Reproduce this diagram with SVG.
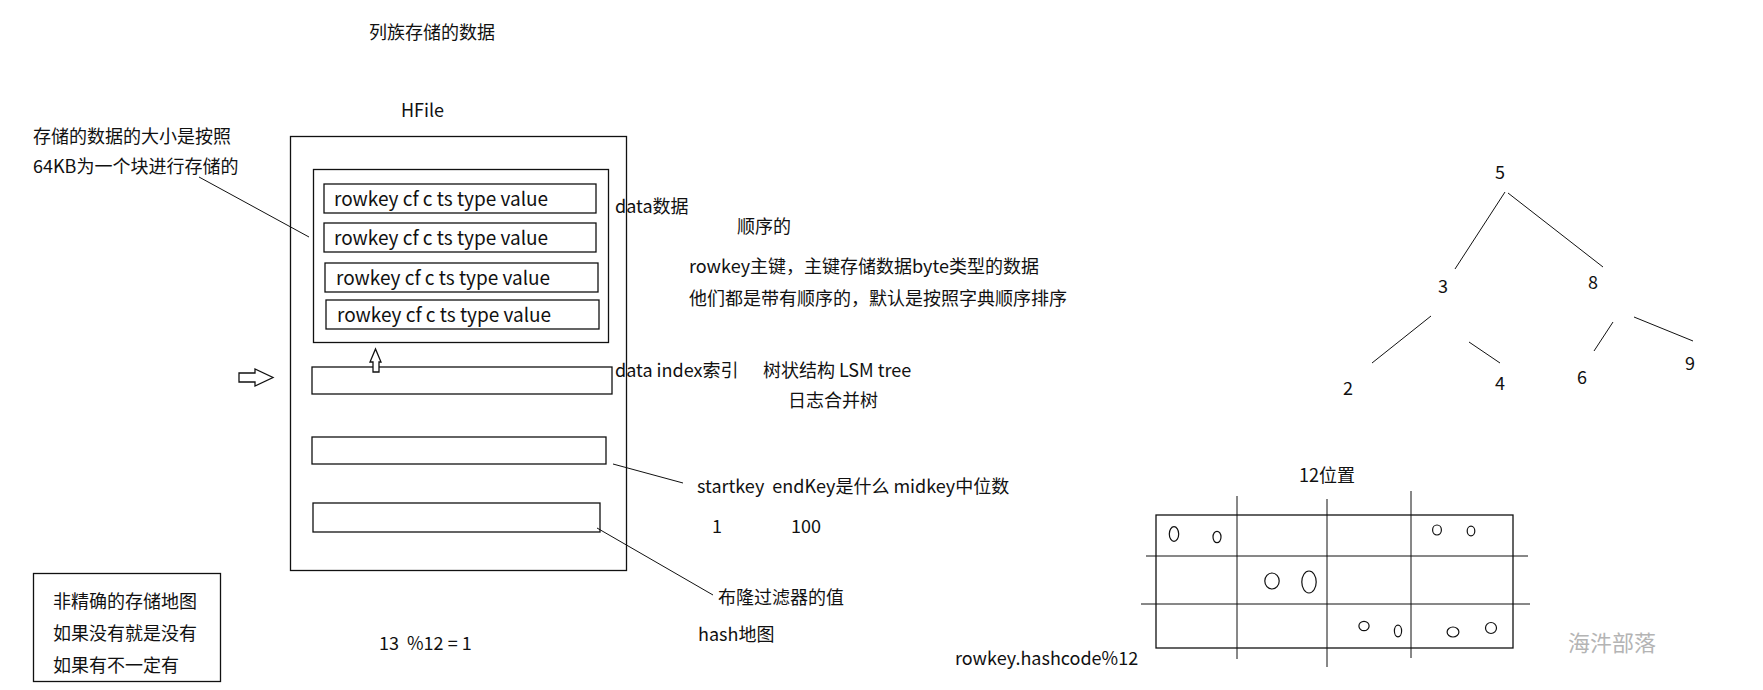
<svg xmlns="http://www.w3.org/2000/svg" width="1763" height="690" viewBox="0 0 1763 690">
<style>
text{font-family:"Noto Sans CJK SC","Liberation Sans",sans-serif;font-size:18px;fill:#111}
.row{font-size:19px}
.box{fill:#fff;stroke:#111;stroke-width:1.3}
.ln{stroke:#111;stroke-width:1;fill:none}
.num{font-size:18px}
.ell{fill:none;stroke:#111;stroke-width:1.2}
.wm{fill:#b4b4b4;font-size:22px}
</style>
<rect width="1763" height="690" fill="#fff"/>
<g id="title"><text x="369" y="39">列族存储的数据</text></g>
<g id="note-left"><text x="33" y="143">存储的数据的大小是按照</text><text x="33" y="173">64KB为一个块进行存储的</text></g>
<g id="hfile">
<text x="401" y="117">HFile</text>
<rect class="box" x="290.5" y="136.5" width="336" height="434"/>
</g>
<g id="data-block">
<rect class="box" x="313.5" y="169.5" width="295" height="173"/>
<rect class="box" x="324" y="184" width="272" height="29"/>
<text class="row" x="334" y="206">rowkey cf c ts type value</text>
<rect class="box" x="324" y="223" width="272" height="29"/>
<text class="row" x="334" y="245">rowkey cf c ts type value</text>
<rect class="box" x="325" y="263" width="273" height="29"/>
<text class="row" x="336" y="285">rowkey cf c ts type value</text>
<rect class="box" x="326" y="300" width="273" height="29"/>
<text class="row" x="337" y="322">rowkey cf c ts type value</text>
</g>
<g id="index-block"><rect class="box" x="312" y="367" width="300" height="27"/></g>
<g id="meta-block"><rect class="box" x="312" y="437" width="294" height="27"/></g>
<g id="bloom-block"><rect class="box" x="313" y="503" width="287" height="29"/></g>
<g id="arrows">
<polygon class="box" points="239,373 255,373 255,369 273,377.5 255,386 255,382 239,382"/>
<polygon class="box" points="373,372 373,362 370,362 375.5,349 381,362 379,362 379,372"/>
</g>
<g id="labels">
<text x="615" y="213">data数据</text>
<text x="737" y="233">顺序的</text>
<text x="689" y="273">rowkey主键，主键存储数据byte类型的数据</text>
<text x="689" y="305">他们都是带有顺序的，默认是按照字典顺序排序</text>
<text x="615" y="377">data index索引</text>
<text x="763" y="377">树状结构 LSM tree</text>
<text x="788" y="407">日志合并树</text>
<text x="697" y="493" xml:space="preserve">startkey  endKey是什么 midkey中位数</text>
<text x="712" y="533">1</text>
<text x="791" y="533">100</text>
<text x="718" y="604">布隆过滤器的值</text>
<text x="698" y="641">hash地图</text>
<text x="379" y="650" xml:space="preserve">13  %12 = 1</text>
<text x="955" y="665">rowkey.hashcode%12</text>
</g>
<g id="legend">
<rect class="box" x="33.5" y="573.5" width="187" height="108"/>
<text x="53" y="608">非精确的存储地图</text>
<text x="53" y="640">如果没有就是没有</text>
<text x="53" y="672">如果有不一定有</text>
</g>
<g id="tree">
<text class="num" x="1495" y="179">5</text>
<text class="num" x="1438" y="293">3</text>
<text class="num" x="1588" y="289">8</text>
<text class="num" x="1343" y="395">2</text>
<text class="num" x="1495" y="390">4</text>
<text class="num" x="1577" y="384">6</text>
<text class="num" x="1685" y="370">9</text>
</g>
<g id="hash-grid">
<text x="1299" y="482">12位置</text>
<rect class="box" x="1156" y="515" width="357" height="133" fill="none"/>
<line class="ln" x1="1146" y1="556" x2="1528" y2="556" stroke-width="1.3"/>
<line class="ln" x1="1141" y1="604" x2="1530" y2="604" stroke-width="1.3"/>
<line class="ln" x1="1237" y1="496" x2="1237" y2="659" stroke-width="1.3"/>
<line class="ln" x1="1327" y1="499" x2="1327" y2="667" stroke-width="1.3"/>
<line class="ln" x1="1411" y1="491" x2="1411" y2="658" stroke-width="1.3"/>
<ellipse class="ell" cx="1174" cy="534" rx="4.7" ry="7.3"/>
<ellipse class="ell" cx="1217" cy="537" rx="4" ry="5.7"/>
<ellipse class="ell" cx="1437" cy="530" rx="4.4" ry="5"/>
<ellipse class="ell" cx="1471" cy="531" rx="3.8" ry="4.8"/>
<ellipse class="ell" cx="1272" cy="581" rx="7.2" ry="8"/>
<ellipse class="ell" cx="1309" cy="582" rx="7.2" ry="11"/>
<ellipse class="ell" cx="1364" cy="626" rx="5.1" ry="4.7"/>
<ellipse class="ell" cx="1398" cy="631" rx="3.6" ry="5.8"/>
<ellipse class="ell" cx="1453" cy="632" rx="5.9" ry="5"/>
<ellipse class="ell" cx="1491" cy="628" rx="5.5" ry="5.5"/>
</g>
<g id="watermark"><text class="wm" x="1568" y="651">海汼部落</text></g>
<g id="connectors">
<line class="ln" x1="199" y1="177" x2="309" y2="237"/>
<line class="ln" x1="613" y1="464" x2="683" y2="483"/>
<line class="ln" x1="597" y1="528" x2="713" y2="595"/>
<line class="ln" x1="1505" y1="192" x2="1455" y2="269"/>
<line class="ln" x1="1508" y1="193" x2="1603" y2="267"/>
<line class="ln" x1="1431" y1="316" x2="1372" y2="363"/>
<line class="ln" x1="1469" y1="342" x2="1500" y2="363"/>
<line class="ln" x1="1613" y1="322" x2="1594" y2="351"/>
<line class="ln" x1="1634" y1="317" x2="1693" y2="341"/>
</g>
</svg>
